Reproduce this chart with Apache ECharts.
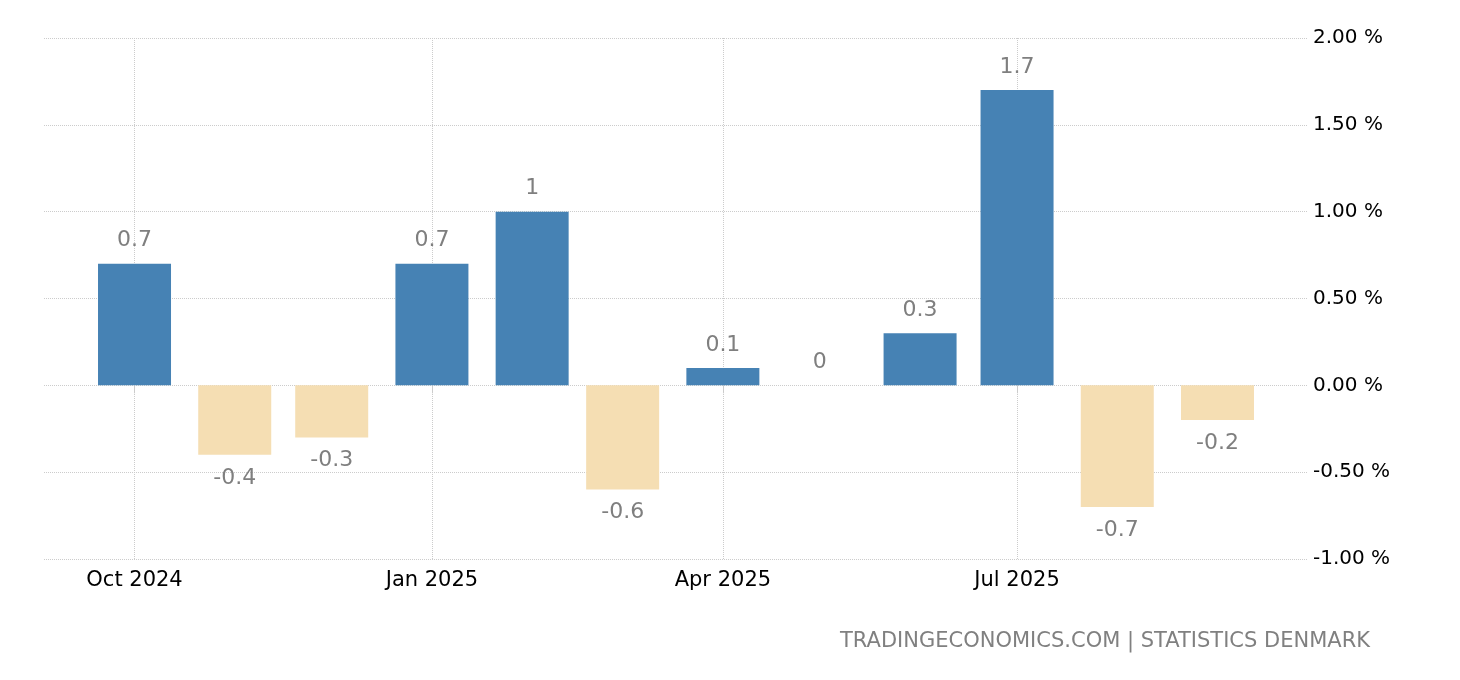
<!DOCTYPE html>
<html>
<head>
<meta charset="utf-8">
<script src="https://cdn.jsdelivr.net/npm/echarts@6/dist/echarts.min.js"></script>
<style>html,body{margin:0;padding:0;background:#fff}#c{width:1460px;height:680px}</style>
</head>
<body>
<div id="c"></div>
<script>
const months = ['2024-10-01','2024-11-01','2024-12-01','2025-01-01','2025-02-01','2025-03-01','2025-04-01','2025-05-01','2025-06-01','2025-07-01','2025-08-01','2025-09-01'];
const values = [0.7, -0.4, -0.3, 0.7, 1.0, -0.6, 0.1, 0, 0.3, 1.7, -0.7, -0.2];
const xTickDates = ['2024-10-01','2025-01-01','2025-04-01','2025-07-01'];
const yTicks = [-1, -0.5, 0, 0.5, 1, 1.5, 2];
const sourceText = 'TRADINGECONOMICS.COM | STATISTICS DENMARK';
const monthNames = ['Jan','Feb','Mar','Apr','May','Jun','Jul','Aug','Sep','Oct','Nov','Dec'];

function toTs(s){ const p = s.split('-'); return Date.UTC(+p[0], +p[1]-1, +p[2]); }

const FONT = 'DejaVu Sans';
const chart = echarts.init(document.getElementById('c'));
chart.setOption({
  animation: false,
  backgroundColor: '#fff',
  grid: { left: 44, right: 152, top: 38, bottom: 121, containLabel: false },
  xAxis: {
    type: 'value',
    min: Date.UTC(2024, 8, 3),
    max: Date.UTC(2025, 8, 29),
    axisLine: { show: false },
    axisTick: { show: true, length: 8, lineStyle: { color: '#cccccc' }, customValues: xTickDates.map(toTs) },
    axisLabel: {
      customValues: xTickDates.map(toTs),
      color: '#000', fontFamily: FONT, fontSize: 21, margin: 11,
      formatter: function (v) { const d = new Date(v); return monthNames[d.getUTCMonth()] + ' ' + d.getUTCFullYear(); }
    },
    splitLine: { show: true, lineStyle: { color: '#cccccc', type: 'dotted', width: 1 } }
  },
  yAxis: {
    type: 'value',
    position: 'right',
    min: yTicks[0], max: yTicks[yTicks.length-1], interval: 0.5,
    axisLine: { show: false },
    axisTick: { show: false },
    axisLabel: { color: '#000', fontFamily: FONT, fontSize: 20, margin: 5, formatter: v => v.toFixed(2) + ' %' },
    splitLine: { lineStyle: { color: '#cccccc', type: 'dotted', width: 1 } }
  },
  series: [{
    type: 'bar',
    barWidth: 73,
    data: months.map((m, i) => ({
      value: [toTs(m), values[i]],
      itemStyle: { color: values[i] >= 0 ? '#4682B4' : '#F5DEB3' },
      label: { position: values[i] >= 0 ? 'top' : 'bottom' }
    })),
    label: {
      show: true, distance: 12, color: '#7f7f7f', fontFamily: FONT, fontSize: 22,
      formatter: p => String(p.value[1])
    }
  }],
  graphic: [{
    type: 'text', right: 90, top: 631,
    style: { text: sourceText, fill: '#808080', font: '21px "DejaVu Sans"' }
  }]
});
</script>
</body>
</html>
